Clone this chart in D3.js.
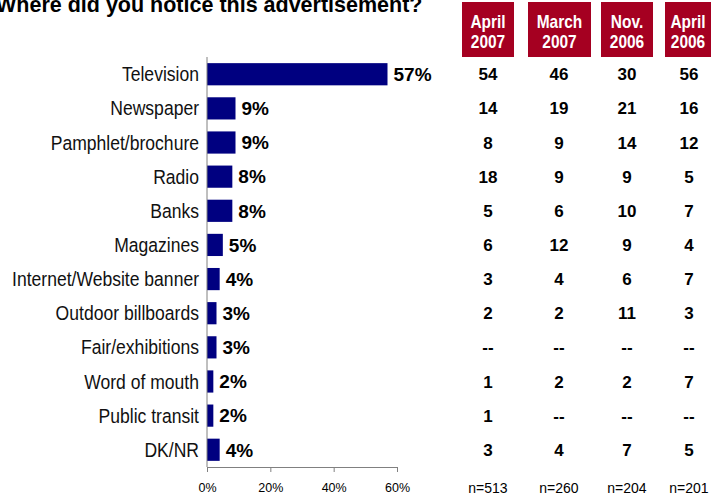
<!DOCTYPE html>
<html>
<head>
<meta charset="utf-8">
<script src="https://cdn.jsdelivr.net/npm/d3@7"></script>
<style>
  html, body { margin: 0; padding: 0; background: #fff; }
  svg { display: block; font-family: Arial, "Liberation Sans", sans-serif; }
</style>
</head>
<body>
<svg id="chart" width="715" height="496"></svg>
<script>
// Where the advertisement was noticed, latest wave (percent)
const categories = [
  "Television", "Newspaper", "Pamphlet/brochure", "Radio", "Banks", "Magazines",
  "Internet/Website banner", "Outdoor billboards", "Fair/exhibitions",
  "Word of mouth", "Public transit", "DK/NR"
];
const latestValues = [57, 9, 9, 8, 8, 5, 4, 3, 3, 2, 2, 4];

// Comparison table by survey wave
const waves = [["April", "2007"], ["March", "2007"], ["Nov.", "2006"], ["April", "2006"]];
const april2007 = ["54", "14", "8", "18", "5", "6", "3", "2", "--", "1", "1", "3"];
const march2007 = ["46", "19", "9", "9", "6", "12", "4", "2", "--", "2", "--", "4"];
const nov2006   = ["30", "21", "14", "9", "10", "9", "6", "11", "--", "2", "--", "7"];
const april2006 = ["56", "16", "12", "5", "7", "4", "7", "3", "--", "7", "--", "5"];
const sampleSizes = ["n=513", "n=260", "n=204", "n=201"];
const xTicks = [0, 20, 40, 60];

const svg = d3.select("#chart");

const x = d3.scaleLinear().domain([0, 60]).range([207, 397]);
const y = d3.scaleBand().domain(categories).range([57, 467]).paddingInner(0.35).paddingOuter(0.18);
const rowMid = d => y(d) + y.bandwidth() / 2;

// Title (runs off the top edge)
svg.append("text")
  .attr("x", -4).attr("y", 12)
  .attr("font-size", 21.5).attr("font-weight", "bold").attr("fill", "#000")
  .text("Where did you notice this advertisement?");

// Bars
svg.append("g").selectAll("rect")
  .data(categories)
  .join("rect")
  .attr("x", x(0))
  .attr("y", d => y(d))
  .attr("width", (d, i) => x(latestValues[i]) - x(0))
  .attr("height", y.bandwidth())
  .attr("fill", "#000080");

// Value labels
svg.append("g").selectAll("text")
  .data(categories)
  .join("text")
  .attr("x", (d, i) => x(latestValues[i]) + 6)
  .attr("y", rowMid)
  .attr("dy", "0.36em")
  .attr("font-size", 19).attr("font-weight", "bold")
  .text((d, i) => latestValues[i] + "%");

// Category labels (condensed)
svg.append("g").selectAll("text")
  .data(categories)
  .join("text")
  .attr("transform", d => `translate(199,${rowMid(d)}) scale(0.9,1)`)
  .attr("dy", "0.36em")
  .attr("text-anchor", "end")
  .attr("font-size", 19.5).attr("fill", "#111")
  .text(d => d);

// Vertical baseline
svg.append("line")
  .attr("x1", x(0)).attr("x2", x(0))
  .attr("y1", 57).attr("y2", 467)
  .attr("stroke", "#808080").attr("stroke-width", 1);

// Bottom axis
const xAxis = d3.axisBottom(x).tickValues(xTicks).tickFormat(d => d + "%").tickSize(5).tickPadding(11);
const axisG = svg.append("g").attr("transform", "translate(0,467)").call(xAxis);
axisG.select(".domain").attr("stroke", "#808080");
axisG.selectAll(".tick line").attr("stroke", "#808080");
axisG.selectAll(".tick text").attr("font-size", 12.5).attr("fill", "#000")
  .attr("font-family", "Arial, 'Liberation Sans', sans-serif");

// Wave table
const colCenters = [488, 559, 627, 689];
const boxBounds = [[462, 514], [528, 591], [601, 653], [665, 711]];
const columns = [april2007, march2007, nov2006, april2006];

const header = svg.append("g");
waves.forEach((w, j) => {
  header.append("rect")
    .attr("x", boxBounds[j][0]).attr("y", 2)
    .attr("width", boxBounds[j][1] - boxBounds[j][0]).attr("height", 55)
    .attr("fill", "#A50021");
  const cx = (boxBounds[j][0] + boxBounds[j][1]) / 2;
  w.forEach((line, k) => {
    header.append("text")
      .attr("transform", `translate(${cx},${28 + k * 20}) scale(0.86,1)`)
      .attr("text-anchor", "middle")
      .attr("font-size", 18).attr("font-weight", "bold").attr("fill", "#fff")
      .text(line);
  });
});

const table = svg.append("g");
columns.forEach((col, j) => {
  table.selectAll(null)
    .data(categories)
    .join("text")
    .attr("x", colCenters[j])
    .attr("y", rowMid)
    .attr("dy", "0.36em")
    .attr("text-anchor", "middle")
    .attr("font-size", 17).attr("font-weight", "bold")
    .text((d, i) => col[i]);
  table.append("text")
    .attr("x", colCenters[j]).attr("y", 493)
    .attr("text-anchor", "middle")
    .attr("font-size", 14)
    .text(sampleSizes[j]);
});
</script>
</body>
</html>
